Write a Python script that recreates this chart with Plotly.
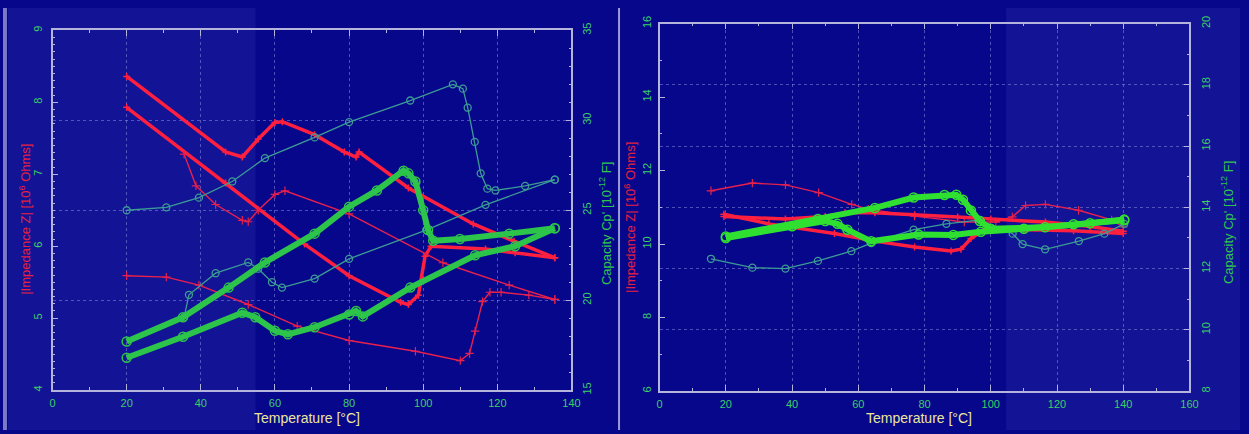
import plotly.graph_objects as go

# ---------------- Left panel (Impedance 10^6 Ohms / Capacity 10^-12 F vs Temperature) -------------
l_ra_t = [20, 46.7, 51.2, 55.5, 60, 62, 70.7, 78.7, 81.9, 82.7, 96, 113.5, 124.5, 135.5]
l_ra_z = [8.36, 7.31, 7.24, 7.49, 7.72, 7.73, 7.55, 7.31, 7.24, 7.31, 6.81, 6.31, 6.07, 5.84]

l_rb_t = [20, 46.7, 68, 80, 93.9, 96, 98.7, 100.5, 102.1, 116.8, 124.8, 135.5]
l_rb_z = [7.93, 6.88, 6.03, 5.59, 5.22, 5.19, 5.32, 5.86, 6.0, 5.96, 5.91, 5.84]

l_rc_t = [35.5, 38.7, 44, 51.2, 52.8, 55.5, 60, 62.7, 80, 105.3, 123.2, 135.5]
l_rc_z = [7.28, 6.84, 6.58, 6.36, 6.34, 6.5, 6.72, 6.77, 6.45, 5.77, 5.46, 5.26]

l_rd_t = [20, 30.7, 39.5, 52.8, 66, 80, 97.9, 110, 112.5, 114, 116, 118, 121, 128.5, 135.5]
l_rd_z = [5.59, 5.57, 5.46, 5.19, 4.89, 4.69, 4.54, 4.41, 4.51, 4.82, 5.23, 5.36, 5.36, 5.32, 5.26]

l_ga_t = [20, 30.7, 39.5, 48.5, 57.3, 70.7, 80, 96.5, 108, 110.7, 112, 113.9, 115.5, 117.3, 119.5, 127.5, 135.5]
l_ga_c = [25.0, 25.16, 25.7, 26.6, 27.9, 29.05, 29.9, 31.1, 32.0, 31.76, 30.7, 28.8, 27.05, 26.2, 26.1, 26.35, 26.7]

l_gb_t = [20, 35.2, 47.5, 57.3, 70.7, 80, 87.5, 94.7, 96, 97.9, 100, 101.3, 102.7, 109.9, 123.2, 135.5]
l_gb_c = [17.7, 19.05, 20.7, 22.1, 23.7, 25.2, 26.1, 27.2, 27.05, 26.6, 25.0, 23.9, 23.3, 23.4, 23.7, 24.0]

l_gc_t = [35.5, 36.8, 44, 52.8, 55.5, 59.2, 61.9, 70.7, 80, 100.8, 116.8, 135.5]
l_gc_c = [19.05, 20.3, 21.5, 22.1, 21.75, 21.0, 20.7, 21.2, 22.3, 23.9, 25.3, 26.7]

l_gd_t = [20, 35.2, 51.2, 54.7, 60, 63.5, 70.7, 80, 81.9, 83.7, 96.5, 114, 124.8, 135.5]
l_gd_c = [16.8, 17.97, 19.3, 19.05, 18.3, 18.1, 18.5, 19.2, 19.4, 19.1, 20.7, 22.5, 23.0, 24.0]

# ---------------- Right panel -------------
r_re_t = [15.5, 28, 38, 48, 58, 63, 77, 92, 101.5, 106.5, 110.5, 116.5, 126.5, 136.5, 140]
r_re_z = [11.45, 11.66, 11.61, 11.4, 11.08, 10.95, 10.76, 10.6, 10.6, 10.74, 11.05, 11.08, 10.92, 10.66, 10.47]

r_rf_t = [19.4, 33, 52.8, 65, 77, 88, 91, 94, 98.5, 110, 125, 140]
r_rf_z = [10.81, 10.55, 10.29, 10.08, 9.92, 9.81, 9.86, 10.15, 10.42, 10.4, 10.36, 10.29]

r_rg_t = [19.4, 38, 50, 56, 65, 77, 90, 100, 116.5, 130, 140]
r_rg_z = [10.75, 10.68, 10.75, 10.85, 10.85, 10.8, 10.74, 10.68, 10.6, 10.48, 10.35]

r_ge_t = [20, 47.8, 65, 76.7, 86, 89.6, 91.6, 94, 96.7, 100, 116.4, 130, 140.3]
r_ge_c = [13.05, 13.62, 13.98, 14.32, 14.4, 14.41, 14.25, 13.9, 13.55, 13.3, 13.35, 13.48, 13.6]

r_gg_t = [20, 40, 50, 53.7, 56.7, 63.9, 78.2, 88.7, 97, 110, 125, 140.3]
r_gg_c = [13.0, 13.38, 13.55, 13.46, 13.27, 12.89, 13.11, 13.1, 13.2, 13.3, 13.45, 13.58]

r_gf_t = [15.5, 28, 38, 47.8, 57.9, 63.9, 76.7, 86.6, 96.7, 106.6, 109.6, 116.4, 126.6, 134.3, 140.3]
r_gf_c = [12.32, 12.03, 12.0, 12.25, 12.57, 12.83, 13.27, 13.46, 13.59, 13.14, 12.8, 12.63, 12.9, 13.14, 13.46]

# ---------------- styling -------------
W, H = 1249, 434
BG = '#07078c'
AXIS = '#b4b4dc'
GRID = 'rgba(150,150,225,0.5)'
TICKG = '#3ccf66'
RED = '#ff1f3f'
RED_T = '#e8204c'
GRN = '#34d84a'
GRN_M = '#66f066'
GRN_T = '#3c9c94'
GRN_TM = '#3cc070'
TITLE_Y = '#ece59c'
FONT = 'Liberation Sans, Arial, sans-serif'

fig = go.Figure()


def red_thick(t, z, xa, ya):
    fig.add_trace(go.Scatter(x=t, y=z, xaxis=xa, yaxis=ya, mode='lines+markers',
                             line=dict(color=RED, width=3.5),
                             marker=dict(symbol='cross-thin-open', size=5, line=dict(color=RED, width=1.5)),
                             showlegend=False, hoverinfo='skip'))


def red_thin(t, z, xa, ya):
    fig.add_trace(go.Scatter(x=t, y=z, xaxis=xa, yaxis=ya, mode='lines+markers',
                             line=dict(color=RED_T, width=1.4),
                             marker=dict(symbol='cross-thin-open', size=6, line=dict(color=RED_T, width=1.2)),
                             showlegend=False, hoverinfo='skip'))


def grn_thick(t, c, xa, ya, col=GRN, mcol=GRN_M):
    fig.add_trace(go.Scatter(x=t, y=c, xaxis=xa, yaxis=ya, mode='lines+markers',
                             line=dict(color=col, width=6),
                             marker=dict(symbol='circle-open', size=9, line=dict(color=mcol, width=1.5)),
                             showlegend=False, hoverinfo='skip'))


def grn_thin(t, c, xa, ya):
    fig.add_trace(go.Scatter(x=t, y=c, xaxis=xa, yaxis=ya, mode='lines+markers',
                             line=dict(color=GRN_T, width=1.3),
                             marker=dict(symbol='circle-open', size=7, line=dict(color=GRN_TM, width=1.3)),
                             showlegend=False, hoverinfo='skip'))


# left panel
red_thick(l_ra_t, l_ra_z, 'x', 'y')
red_thick(l_rb_t, l_rb_z, 'x', 'y')
red_thin(l_rc_t, l_rc_z, 'x', 'y')
red_thin(l_rd_t, l_rd_z, 'x', 'y')
grn_thin(l_ga_t, l_ga_c, 'x', 'y2')
grn_thin(l_gc_t, l_gc_c, 'x', 'y2')
grn_thick(l_gb_t, l_gb_c, 'x', 'y2', '#2cc44a', '#58e058')
grn_thick(l_gd_t, l_gd_c, 'x', 'y2', '#2cc44a', '#58e058')

# right panel
red_thin(r_re_t, r_re_z, 'x2', 'y3')
red_thick(r_rf_t, r_rf_z, 'x2', 'y3')
red_thick(r_rg_t, r_rg_z, 'x2', 'y3')
grn_thin(r_gf_t, r_gf_c, 'x2', 'y4')
grn_thick(r_gg_t, r_gg_c, 'x2', 'y4', '#30e030', '#70ff50')
grn_thick(r_ge_t, r_ge_c, 'x2', 'y4', '#30e030', '#70ff50')

tickfont = dict(color=TICKG, size=11, family=FONT)


def xax(domain, rng, anchor):
    return dict(domain=domain, range=rng, anchor=anchor, dtick=20, tick0=0,
                ticks='inside', ticklen=6, tickwidth=1.2, tickcolor=AXIS,
                showline=True, linecolor=AXIS, linewidth=1.5, mirror='ticks',
                showgrid=True, gridcolor=GRID, griddash='dot', gridwidth=1,
                zeroline=False, tickfont=tickfont, ticklabelstandoff=2,
                minor=dict(dtick=10, ticks='inside', ticklen=3, tickcolor=AXIS, showgrid=False))


def yax(domain, rng, anchor, dtick, mdtick, side, grid, overlay=None, standoff=3):
    d = dict(range=rng, anchor=anchor, dtick=dtick, side=side,
             ticks='inside', ticklen=6, tickwidth=1.2, tickcolor=AXIS,
             showline=True, linecolor=AXIS, linewidth=1.5,
             showgrid=grid, gridcolor=GRID, griddash='dot', gridwidth=1,
             zeroline=False, tickfont=tickfont, tickangle=-90, ticklabelstandoff=standoff,
             minor=dict(dtick=mdtick, ticks='inside', ticklen=3, tickcolor=AXIS, showgrid=False))
    if overlay:
        d['overlaying'] = overlay
    else:
        d['domain'] = domain
    return d


Ldom_x = [50 / W, 574 / W]
Ldom_y = [(H - 393) / H, (H - 23) / H]
Rdom_x = [663 / W, 1198 / W]
Rdom_y = [(H - 394) / H, (H - 16) / H]

shapes = [
    dict(type='rect', xref='paper', yref='paper', x0=5 / W, x1=255 / W, y0=0, y1=1,
         fillcolor='rgba(90,90,200,0.16)', line=dict(width=0), layer='below'),
    dict(type='rect', xref='paper', yref='paper', x0=1013 / W, x1=1, y0=0, y1=1,
         fillcolor='rgba(90,90,200,0.16)', line=dict(width=0), layer='below'),
    dict(type='rect', xref='paper', yref='paper', x0=0, x1=4 / W, y0=0, y1=1,
         fillcolor='rgba(200,200,240,0.6)', line=dict(width=0), layer='below'),
    dict(type='line', xref='paper', yref='paper', x0=622 / W, x1=622 / W, y0=0, y1=1,
         line=dict(color='#9a9ad8', width=2), layer='below'),
]

ann = [
    dict(text='Temperature [°C]', x=307 / W, y=(H - 422) / H, font=dict(color=TITLE_Y, size=14, family=FONT)),
    dict(text='Temperature [°C]', x=925 / W, y=(H - 422) / H, font=dict(color=TITLE_Y, size=14, family=FONT)),
    dict(text='|Impedance Z| [10<sup>6</sup> Ohms]', x=22 / W, y=(H - 217) / H, textangle=-90,
         font=dict(color='#e8203e', size=13, family=FONT)),
    dict(text="Capacity Cp' [10<sup>-12</sup> F]", x=608 / W, y=(H - 222) / H, textangle=-90,
         font=dict(color='#2ec84a', size=13, family=FONT)),
    dict(text='|Impedance Z| [10<sup>6</sup> Ohms]', x=633 / W, y=(H - 215) / H, textangle=-90,
         font=dict(color='#e8203e', size=13, family=FONT)),
    dict(text="Capacity Cp' [10<sup>-12</sup> F]", x=1236 / W, y=(H - 221) / H, textangle=-90,
         font=dict(color='#2ec84a', size=13, family=FONT)),
]
for a in ann:
    a.update(xref='paper', yref='paper', showarrow=False, xanchor='center', yanchor='middle')

fig.update_layout(
    width=W, height=H,
    margin=dict(l=0, r=0, t=0, b=0),
    paper_bgcolor=BG, plot_bgcolor='rgba(0,0,0,0)',
    font=dict(family=FONT),
    showlegend=False,
    xaxis=xax(Ldom_x, [0, 140], 'y'),
    xaxis2=xax(Rdom_x, [0, 160], 'y3'),
    yaxis=yax(Ldom_y, [4, 9], 'x', 1, 0.1, 'left', False, standoff=4),
    yaxis2=yax(Ldom_y, [15, 35], 'x', 5, 1, 'right', True, overlay='y', standoff=5),
    yaxis3=yax(Rdom_y, [6, 16], 'x2', 2, 1, 'left', False, standoff=2),
    yaxis4=yax(Rdom_y, [8, 20], 'x2', 2, 1, 'right', True, overlay='y3', standoff=6),
    shapes=shapes,
    annotations=ann,
)

fig.write_html('out.html')
